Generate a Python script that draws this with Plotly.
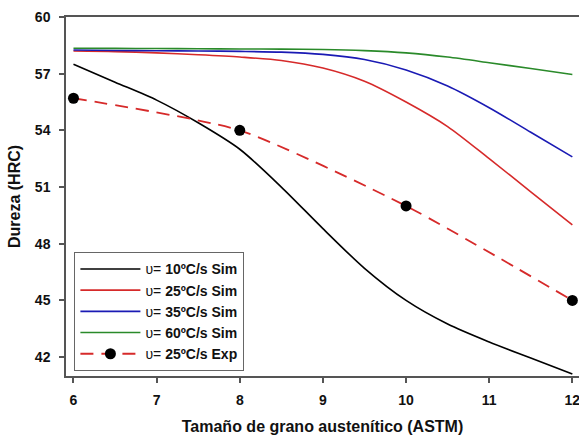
import plotly.graph_objects as go

# Grain size (ASTM) and hardness (HRC) for each cooling rate
x_sim = [6, 6.5, 7, 7.5, 8, 8.5, 9, 9.5, 10, 10.5, 11, 11.5, 12]
hrc_10 = [57.5, 56.55, 55.6, 54.4, 53.0, 51.0, 48.8, 46.7, 45.0, 43.75, 42.8, 41.95, 41.1]
hrc_25 = [58.2, 58.17, 58.1, 58.0, 57.88, 57.7, 57.3, 56.6, 55.5, 54.2, 52.5, 50.75, 49.0]
hrc_35 = [58.25, 58.23, 58.21, 58.2, 58.18, 58.14, 58.02, 57.75, 57.2, 56.35, 55.2, 53.9, 52.6]
hrc_60 = [58.35, 58.34, 58.33, 58.32, 58.31, 58.3, 58.28, 58.22, 58.1, 57.88, 57.58, 57.27, 56.96]

x_exp = [6, 8, 10, 12]
hrc_exp = [55.7, 54.0, 50.0, 45.0]

y_ticks = [42, 45, 48, 51, 54, 57, 60]
x_ticks = [6, 7, 8, 9, 10, 11, 12]

FONT = "Liberation Sans, Arial, sans-serif"

fig = go.Figure()

sim_series = [
    ("10ºC/s Sim", hrc_10, "#000000"),
    ("25ºC/s Sim", hrc_25, "#d62a2a"),
    ("35ºC/s Sim", hrc_35, "#1a1ab4"),
    ("60ºC/s Sim", hrc_60, "#2a8a2a"),
]
for label, ys, color in sim_series:
    fig.add_trace(go.Scatter(
        x=x_sim, y=ys, mode="lines", name="υ= <b>" + label + "</b>",
        line=dict(color=color, width=1.6, shape="spline", smoothing=0.8),
    ))

fig.add_trace(go.Scatter(
    x=x_exp, y=hrc_exp, mode="lines+markers", name="υ= <b>25ºC/s Exp</b>",
    line=dict(color="#d62a2a", width=1.8, dash="13px,8px", shape="spline", smoothing=0.6),
    marker=dict(color="#000000", size=11),
))

axis_common = dict(
    showgrid=False, zeroline=False, showline=True, linecolor="#555555", linewidth=1.5,
    ticks="outside", ticklen=5, tickwidth=1.5, tickcolor="#555555",
    tickfont=dict(family=FONT, size=14, color="#111111", weight="bold"),
    ticklabeloverflow="allow",
)

fig.update_xaxes(
    range=[5.91, 12.08], tickvals=x_ticks, mirror=True, ticklabelstandoff=5,
    title=dict(text="<b>Tamaño de grano austenítico (ASTM)</b>",
               font=dict(family=FONT, size=16, color="#111111"), standoff=14),
    **axis_common,
)
fig.update_yaxes(
    range=[41.0, 60.0], tickvals=y_ticks, ticklabelstandoff=6,
    title=dict(text="<b>Dureza (HRC)</b>",
               font=dict(family=FONT, size=16, color="#111111"), standoff=10),
    **axis_common,
)

fig.update_layout(
    width=579, height=439,
    margin=dict(l=66, r=0, t=17, b=63),
    plot_bgcolor="white", paper_bgcolor="white",
    showlegend=True,
    legend=dict(
        x=0.016, y=0.345, xanchor="left", yanchor="top",
        bgcolor="white", bordercolor="#666666", borderwidth=1.2,
        font=dict(family=FONT, size=14, color="#111111"),
        itemwidth=60, tracegroupgap=0,
    ),
)

fig.write_html("out.html")
